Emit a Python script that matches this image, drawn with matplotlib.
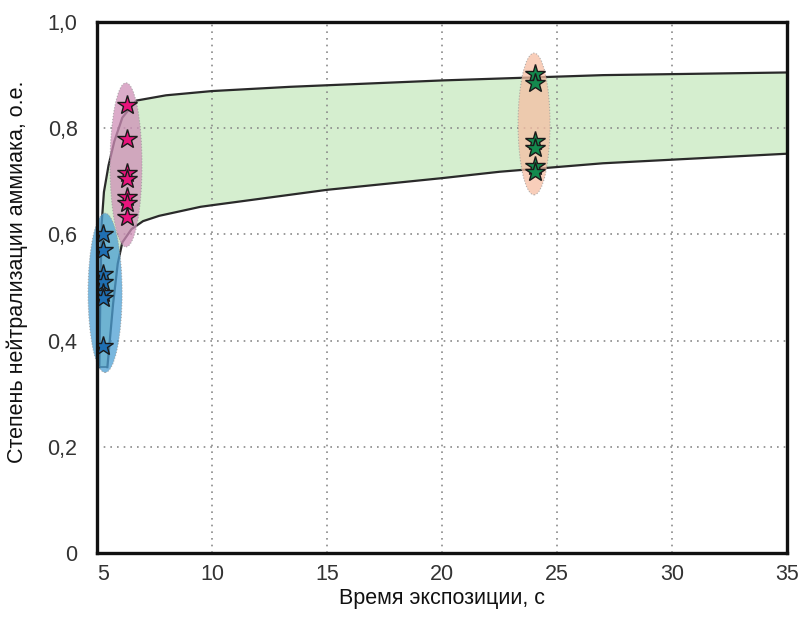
import numpy as np
import matplotlib.pyplot as plt
from matplotlib.patches import Ellipse, Polygon

plt.rcParams['font.family'] = ['Liberation Sans Narrow', 'Liberation Sans', 'DejaVu Sans']

# boundary of the shaded band (upper curve, lower curve)
upper_x = [5.1, 5.15, 5.2, 5.3, 5.5, 5.75, 6.1, 6.7, 8.0, 10.0, 13.4, 20.0, 27.0, 35.0]
upper_y = [0.35, 0.50, 0.62, 0.68, 0.73, 0.775, 0.82, 0.852, 0.862, 0.870, 0.878, 0.890, 0.900, 0.905]
lower_x = [5.45, 5.7, 5.9, 6.1, 6.5, 7.0, 7.7, 9.5, 10.0, 15.0, 20.0, 22.5, 27.0, 35.0]
lower_y = [0.35, 0.47, 0.545, 0.585, 0.61, 0.625, 0.635, 0.652, 0.655, 0.684, 0.706, 0.718, 0.734, 0.752]

# measured points
blue_x = [5.25] * 7
blue_y = [0.60, 0.57, 0.525, 0.51, 0.49, 0.48, 0.39]
pink_x = [6.3] * 7
pink_y = [0.844, 0.780, 0.716, 0.704, 0.670, 0.659, 0.633]
green_x = [24.05] * 6
green_y = [0.902, 0.885, 0.776, 0.763, 0.729, 0.718]

# ellipses: center x, center y, width, height, colour
ell_cx = [5.35, 6.26, 24.0]
ell_cy = [0.49, 0.731, 0.808]
ell_w = [1.48, 1.39, 1.39]
ell_h = [0.30, 0.309, 0.267]
ell_col = ['#4c9fd3', '#cf8fb8', '#f6bea3']

xticks = [5, 10, 15, 20, 25, 30, 35]
yticks = [0, 0.2, 0.4, 0.6, 0.8, 1.0]
ylabels = ['0', '0,2', '0,4', '0,6', '0,8', '1,0']

fig = plt.figure(figsize=(7.98, 6.17), dpi=100)
ax = fig.add_axes([0.1216, 0.1037, 0.8647, 0.8606])
ax.set_xlim(5, 35)
ax.set_ylim(0, 1.0)

# shaded band
band = list(zip(upper_x, upper_y)) + list(zip(lower_x[::-1], lower_y[::-1]))
ax.add_patch(Polygon(band, closed=True, facecolor='#d5eecf', edgecolor='none', zorder=1))
ax.plot(upper_x, upper_y, color='#2a2a2a', lw=1.6, zorder=2)
ax.plot(lower_x, lower_y, color='#2a2a2a', lw=1.6, zorder=2)
ax.plot([upper_x[0], lower_x[0]], [upper_y[0], lower_y[0]], color='#2a2a2a', lw=1.2, zorder=2)

# grid
for gx in xticks[1:-1]:
    ax.plot([gx, gx], [0, 1], color='#8a8a8a', lw=1.2, ls=(0, (1, 3)), zorder=1.5)
for gy in yticks[1:-1]:
    ax.plot([5, 35], [gy, gy], color='#8a8a8a', lw=1.2, ls=(0, (1, 3)), zorder=1.5)

for cx, cy, w, h, c in zip(ell_cx, ell_cy, ell_w, ell_h, ell_col):
    ax.add_patch(Ellipse((cx, cy), w, h, facecolor=c, alpha=0.75, clip_on=False,
                         edgecolor='#999999', lw=0.8, ls=':', zorder=3))

star = dict(marker='*', markersize=15, markeredgecolor='#1a1a1a', markeredgewidth=1.0,
            linestyle='none', zorder=4)
ax.plot(blue_x, blue_y, markerfacecolor='#1f6fb2', **star)
ax.plot(pink_x, pink_y, markerfacecolor='#e8147c', **star)
ax.plot(green_x, green_y, markerfacecolor='#138a4e', **star)

ax.set_xticks(xticks)
ax.set_xticklabels([str(t) for t in xticks])
ax.set_yticks(yticks)
ax.set_yticklabels(ylabels)
ax.tick_params(length=0, labelsize=15.5, colors='#333333')
ax.tick_params(axis='x', pad=8)
ax.tick_params(axis='y', pad=14)
ax.get_xticklabels()[0].set_ha('left')

for s in ax.spines.values():
    s.set_linewidth(2.4)
    s.set_color('#111111')
    s.set_zorder(5)

ax.set_xlabel('Время экспозиции, с', fontsize=15.5, labelpad=2, color='#111111')
ax.set_ylabel('Степень нейтрализации аммиака, о.е.', fontsize=15.5, color='#111111')
ax.yaxis.set_label_coords(-0.1, 0.53)

fig.savefig('out.png', dpi=100)
